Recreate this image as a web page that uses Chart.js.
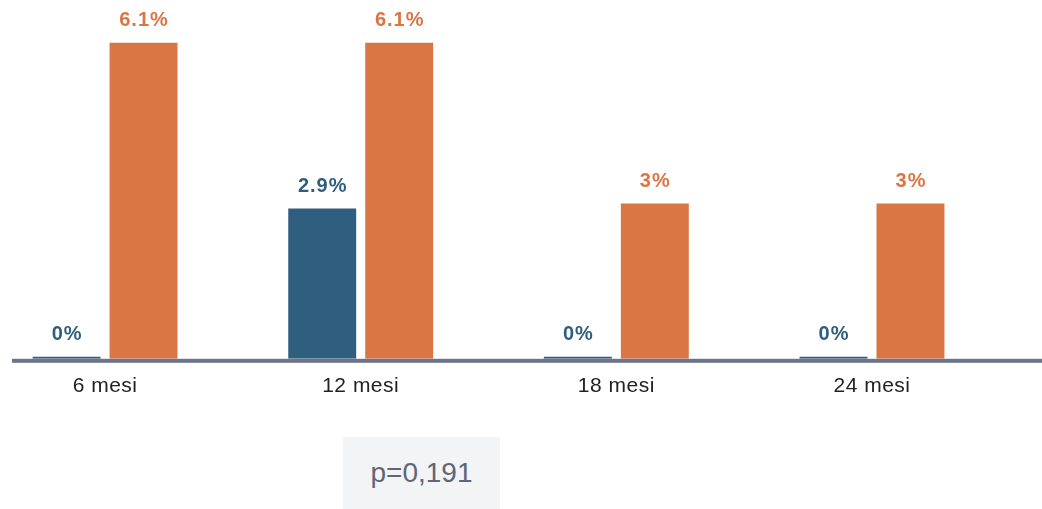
<!DOCTYPE html>
<html>
<head>
<meta charset="utf-8">
<script src="https://cdn.jsdelivr.net/npm/chart.js@4"></script>
<style>
  html, body { margin: 0; padding: 0; background: #ffffff; width: 1042px; height: 509px; overflow: hidden; }
  #wrap { position: absolute; left: 0; top: 0; width: 1042px; height: 509px; }
  #pbox {
    position: absolute; left: 343px; top: 437px; width: 157px; height: 80px;
    background: #f3f4f6; color: #5f6678;
    font-family: "Liberation Sans", Arial, sans-serif; font-size: 28px; line-height: 32px;
    text-align: center; box-sizing: border-box; padding-top: 20px;
  }
</style>
</head>
<body>
<div id="wrap"><canvas id="c" width="1042" height="509"></canvas></div>
<div id="pbox">p=0,191</div>
<script>
const categories = ["6 mesi", "12 mesi", "18 mesi", "24 mesi"];
const seriesBlue = [0, 2.9, 0, 0];
const seriesOrange = [6.1, 6.1, 3, 3];
const valueLabelsBlue = ["0%", "2.9%", "0%", "0%"];
const valueLabelsOrange = ["6.1%", "6.1%", "3%", "3%"];

const BLUE = "#2f5e7e";
const ORANGE = "#da7644";
const AXIS = "#6b7489";

const toPoints = arr => arr.map((v, i) => ({ x: i, y: v }));

const letterSpacingPlugin = {
  id: "letterSpacing",
  beforeDraw(chart) { chart.ctx.letterSpacing = "0.5px"; }
};

const valueLabelPlugin = {
  id: "valueLabels",
  afterDatasetsDraw(chart) {
    const ctx = chart.ctx;
    const area = chart.chartArea;
    ctx.save();
    ctx.fillStyle = AXIS;
    ctx.fillRect(area.left, area.bottom, area.right - area.left, 4);
    ctx.restore();
    chart.data.datasets.forEach((ds, di) => {
      const meta = chart.getDatasetMeta(di);
      meta.data.forEach((bar, i) => {
        ctx.save();
        ctx.letterSpacing = "1px";
        ctx.font = "bold 20px 'Liberation Sans', Arial, sans-serif";
        ctx.fillStyle = ds.labelColor;
        ctx.textAlign = "center";
        ctx.textBaseline = "middle";
        ctx.fillText(ds.valueLabels[i], bar.x + 0.5, bar.y - 22);
        ctx.restore();
      });
    });
  }
};

new Chart(document.getElementById("c"), {
  type: "bar",
  data: {
    datasets: [
      {
        label: "A",
        data: toPoints(seriesBlue),
        backgroundColor: BLUE,
        minBarLength: 2,
        valueLabels: valueLabelsBlue,
        labelColor: BLUE,
        categoryPercentage: 0.602,
        barPercentage: 0.883
      },
      {
        label: "B",
        data: toPoints(seriesOrange),
        backgroundColor: ORANGE,
        valueLabels: valueLabelsOrange,
        labelColor: ORANGE,
        categoryPercentage: 0.602,
        barPercentage: 0.883
      }
    ]
  },
  options: {
    responsive: false,
    animation: false,
    layout: { padding: { left: 12, right: 0, top: 5, bottom: 95 } },
    plugins: { legend: { display: false }, tooltip: { enabled: false } },
    scales: {
      x: {
        type: "linear",
        offset: false,
        min: -0.364,
        max: 3.665,
        afterBuildTicks: scale => {
          scale.ticks = categories.map((_, i) => ({ value: i }));
        },
        grid: { display: false, drawTicks: false, offset: false },
        border: { display: false },
        ticks: {
          autoSkip: false,
          maxRotation: 0,
          padding: 15,
          color: "#222222",
          font: { family: "'Liberation Sans', Arial, sans-serif", size: 21 },
          callback: v => categories[Math.round(v)] !== undefined ? categories[Math.round(v)] : ""
        }
      },
      y: {
        display: false,
        min: 0,
        max: 6.83
      }
    }
  },
  plugins: [letterSpacingPlugin, valueLabelPlugin]
});
</script>
</body>
</html>
